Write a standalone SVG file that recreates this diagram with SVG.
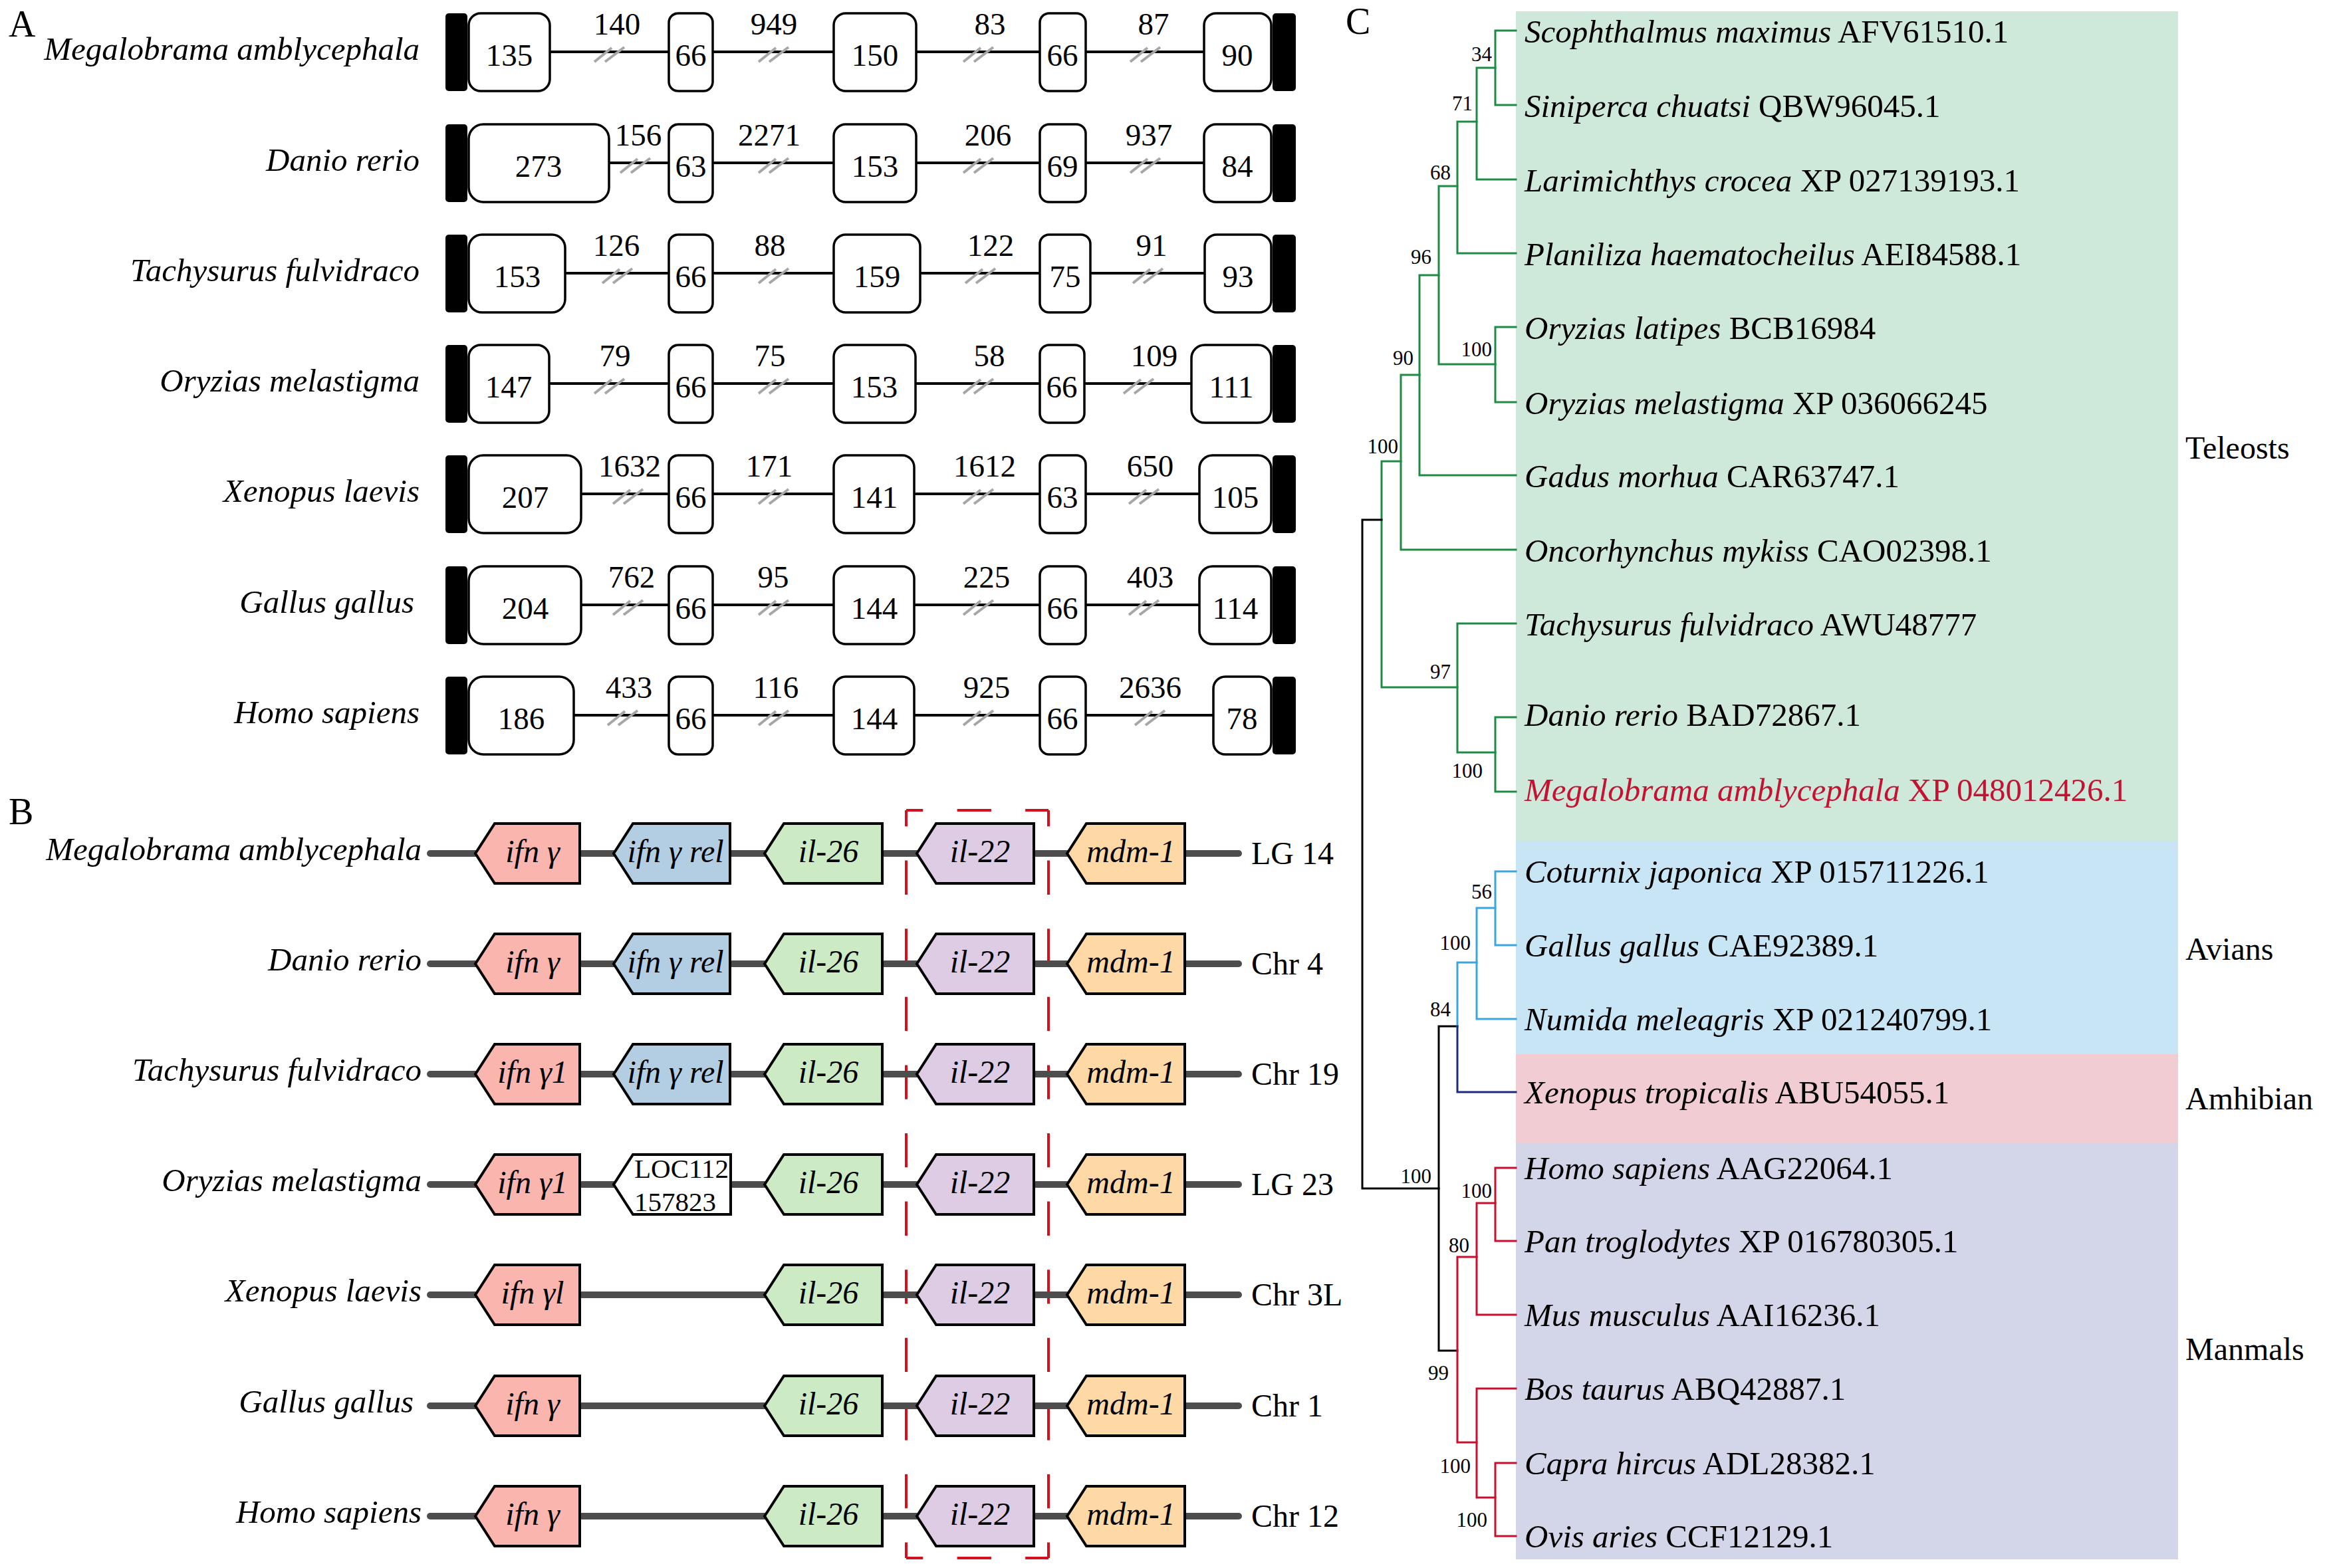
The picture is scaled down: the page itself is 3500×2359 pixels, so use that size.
<svg xmlns="http://www.w3.org/2000/svg" width="3500" height="2359" viewBox="0 0 3500 2359">
<style>
text{font-family:"Liberation Serif","Times New Roman",serif;fill:#000}
.sp{font-size:49px;font-style:italic;text-anchor:end}
.num{font-size:47px;text-anchor:middle}
.pl{font-size:56px}
.box{fill:#fff;stroke:#000;stroke-width:3.5}
.bar{fill:#000}
.ln{stroke:#000;stroke-width:4}
.brk{stroke:#a6a6a6;stroke-width:4}
.chrom{stroke:#4d4d4d;stroke-width:10;stroke-linecap:round}
.gene{stroke:#000;stroke-width:4;stroke-linejoin:miter}
.gl{font-size:48px;font-style:italic;text-anchor:middle}
.chr{font-size:48px}
.ifn{fill:#f9b5ae}.rel{fill:#b3cde3}.i26{fill:#ccebc5}.i22{fill:#decbe4}.mdm{fill:#fed9a6}.loc{fill:#fff}
.red{fill:none;stroke:#d2101e;stroke-width:4;stroke-dasharray:51.3 51.3}
.leaf{font-size:49px}
.it{font-style:italic}
.bs{font-size:31px;text-anchor:end}
.grp{font-size:48px}
.br{fill:none;stroke-width:3;stroke-linecap:square}
.g{stroke:#1e8b45}.k{stroke:#000}.b{stroke:#3aa6dd}.n{stroke:#1c2a80}.r{stroke:#c8102e}
</style>
<defs>
<g id="bk"><line class="brk" x1="-22" y1="13" x2="4" y2="-8"/><line class="brk" x1="-6" y1="13" x2="23" y2="-9"/></g>
</defs>
<rect width="3500" height="2359" fill="#fff"/>

<!-- Panel A -->
<g id="panelA">
<text class="pl" x="13" y="55">A</text>
<g id="A1">
<text class="sp" x="631" y="90">Megalobrama amblycephala</text>
<line class="ln" x1="827" y1="78" x2="1006" y2="78"/><line class="ln" x1="1072" y1="78" x2="1254" y2="78"/><line class="ln" x1="1378" y1="78" x2="1564" y2="78"/><line class="ln" x1="1633" y1="78" x2="1811" y2="78"/>
<use href="#bk" x="916" y="80"/><use href="#bk" x="1163" y="80"/><use href="#bk" x="1471" y="80"/><use href="#bk" x="1722" y="80"/>
<rect class="bar" x="670" y="20" width="33" height="117" rx="5"/><rect class="bar" x="1914" y="20" width="35" height="117" rx="5"/>
<rect class="box" x="705" y="20" width="122" height="117" rx="18"/><rect class="box" x="1006" y="20" width="66" height="117" rx="14"/><rect class="box" x="1254" y="20" width="124" height="117" rx="18"/><rect class="box" x="1564" y="20" width="69" height="117" rx="14"/><rect class="box" x="1811" y="20" width="101" height="117" rx="18"/>
<text class="num" x="766" y="99">135</text><text class="num" x="1039" y="99">66</text><text class="num" x="1316" y="99">150</text><text class="num" x="1598" y="99">66</text><text class="num" x="1861" y="99">90</text>
<text class="num" x="928" y="52">140</text><text class="num" x="1164" y="52">949</text><text class="num" x="1489" y="52">83</text><text class="num" x="1735" y="52">87</text>
</g>
<g id="A2">
<text class="sp" x="631" y="257">Danio rerio</text>
<line class="ln" x1="916" y1="245" x2="1006" y2="245"/><line class="ln" x1="1072" y1="245" x2="1254" y2="245"/><line class="ln" x1="1378" y1="245" x2="1564" y2="245"/><line class="ln" x1="1633" y1="245" x2="1811" y2="245"/>
<use href="#bk" x="955" y="247"/><use href="#bk" x="1163" y="247"/><use href="#bk" x="1471" y="247"/><use href="#bk" x="1722" y="247"/>
<rect class="bar" x="670" y="187" width="33" height="117" rx="5"/><rect class="bar" x="1914" y="187" width="35" height="117" rx="5"/>
<rect class="box" x="705" y="187" width="211" height="117" rx="22"/><rect class="box" x="1006" y="187" width="66" height="117" rx="14"/><rect class="box" x="1254" y="187" width="124" height="117" rx="18"/><rect class="box" x="1564" y="187" width="69" height="117" rx="14"/><rect class="box" x="1811" y="187" width="101" height="117" rx="18"/>
<text class="num" x="810" y="266">273</text><text class="num" x="1039" y="266">63</text><text class="num" x="1316" y="266">153</text><text class="num" x="1598" y="266">69</text><text class="num" x="1861" y="266">84</text>
<text class="num" x="960" y="219">156</text><text class="num" x="1157" y="219">2271</text><text class="num" x="1486" y="219">206</text><text class="num" x="1728" y="219">937</text>
</g>
<g id="A3">
<text class="sp" x="631" y="423">Tachysurus fulvidraco</text>
<line class="ln" x1="850" y1="411" x2="1006" y2="411"/><line class="ln" x1="1072" y1="411" x2="1254" y2="411"/><line class="ln" x1="1384" y1="411" x2="1564" y2="411"/><line class="ln" x1="1640" y1="411" x2="1812" y2="411"/>
<use href="#bk" x="928" y="413"/><use href="#bk" x="1163" y="413"/><use href="#bk" x="1474" y="413"/><use href="#bk" x="1726" y="413"/>
<rect class="bar" x="670" y="353" width="33" height="117" rx="5"/><rect class="bar" x="1914" y="353" width="35" height="117" rx="5"/>
<rect class="box" x="705" y="353" width="145" height="117" rx="20"/><rect class="box" x="1006" y="353" width="66" height="117" rx="14"/><rect class="box" x="1254" y="353" width="130" height="117" rx="18"/><rect class="box" x="1564" y="353" width="76" height="117" rx="14"/><rect class="box" x="1812" y="353" width="100" height="117" rx="18"/>
<text class="num" x="778" y="432">153</text><text class="num" x="1039" y="432">66</text><text class="num" x="1319" y="432">159</text><text class="num" x="1602" y="432">75</text><text class="num" x="1862" y="432">93</text>
<text class="num" x="927" y="385">126</text><text class="num" x="1158" y="385">88</text><text class="num" x="1490" y="385">122</text><text class="num" x="1732" y="385">91</text>
</g>
<g id="A4">
<text class="sp" x="631" y="589">Oryzias melastigma</text>
<line class="ln" x1="826" y1="577" x2="1006" y2="577"/><line class="ln" x1="1072" y1="577" x2="1254" y2="577"/><line class="ln" x1="1377" y1="577" x2="1564" y2="577"/><line class="ln" x1="1631" y1="577" x2="1792" y2="577"/>
<use href="#bk" x="916" y="579"/><use href="#bk" x="1163" y="579"/><use href="#bk" x="1471" y="579"/><use href="#bk" x="1712" y="579"/>
<rect class="bar" x="670" y="519" width="33" height="117" rx="5"/><rect class="bar" x="1914" y="519" width="35" height="117" rx="5"/>
<rect class="box" x="705" y="519" width="121" height="117" rx="18"/><rect class="box" x="1006" y="519" width="66" height="117" rx="14"/><rect class="box" x="1254" y="519" width="123" height="117" rx="18"/><rect class="box" x="1564" y="519" width="67" height="117" rx="14"/><rect class="box" x="1792" y="519" width="120" height="117" rx="20"/>
<text class="num" x="765" y="598">147</text><text class="num" x="1039" y="598">66</text><text class="num" x="1315" y="598">153</text><text class="num" x="1597" y="598">66</text><text class="num" x="1852" y="598">111</text>
<text class="num" x="925" y="551">79</text><text class="num" x="1158" y="551">75</text><text class="num" x="1488" y="551">58</text><text class="num" x="1736" y="551">109</text>
</g>
<g id="A5">
<text class="sp" x="631" y="755">Xenopus laevis</text>
<line class="ln" x1="874" y1="743" x2="1006" y2="743"/><line class="ln" x1="1072" y1="743" x2="1254" y2="743"/><line class="ln" x1="1375" y1="743" x2="1564" y2="743"/><line class="ln" x1="1633" y1="743" x2="1804" y2="743"/>
<use href="#bk" x="944" y="745"/><use href="#bk" x="1163" y="745"/><use href="#bk" x="1471" y="745"/><use href="#bk" x="1720" y="745"/>
<rect class="bar" x="670" y="685" width="33" height="117" rx="5"/><rect class="bar" x="1914" y="685" width="35" height="117" rx="5"/>
<rect class="box" x="705" y="685" width="169" height="117" rx="22"/><rect class="box" x="1006" y="685" width="66" height="117" rx="14"/><rect class="box" x="1254" y="685" width="121" height="117" rx="18"/><rect class="box" x="1564" y="685" width="69" height="117" rx="14"/><rect class="box" x="1804" y="685" width="108" height="117" rx="20"/>
<text class="num" x="790" y="764">207</text><text class="num" x="1039" y="764">66</text><text class="num" x="1315" y="764">141</text><text class="num" x="1598" y="764">63</text><text class="num" x="1858" y="764">105</text>
<text class="num" x="947" y="717">1632</text><text class="num" x="1157" y="717">171</text><text class="num" x="1481" y="717">1612</text><text class="num" x="1730" y="717">650</text>
</g>
<g id="A6">
<text class="sp" x="623" y="922">Gallus gallus</text>
<line class="ln" x1="874" y1="910" x2="1006" y2="910"/><line class="ln" x1="1072" y1="910" x2="1254" y2="910"/><line class="ln" x1="1375" y1="910" x2="1564" y2="910"/><line class="ln" x1="1633" y1="910" x2="1804" y2="910"/>
<use href="#bk" x="944" y="912"/><use href="#bk" x="1163" y="912"/><use href="#bk" x="1471" y="912"/><use href="#bk" x="1720" y="912"/>
<rect class="bar" x="670" y="852" width="33" height="117" rx="5"/><rect class="bar" x="1914" y="852" width="35" height="117" rx="5"/>
<rect class="box" x="705" y="852" width="169" height="117" rx="22"/><rect class="box" x="1006" y="852" width="66" height="117" rx="14"/><rect class="box" x="1254" y="852" width="121" height="117" rx="18"/><rect class="box" x="1564" y="852" width="69" height="117" rx="14"/><rect class="box" x="1804" y="852" width="108" height="117" rx="20"/>
<text class="num" x="790" y="931">204</text><text class="num" x="1039" y="931">66</text><text class="num" x="1315" y="931">144</text><text class="num" x="1598" y="931">66</text><text class="num" x="1858" y="931">114</text>
<text class="num" x="950" y="884">762</text><text class="num" x="1163" y="884">95</text><text class="num" x="1484" y="884">225</text><text class="num" x="1730" y="884">403</text>
</g>
<g id="A7">
<text class="sp" x="631" y="1088">Homo sapiens</text>
<line class="ln" x1="863" y1="1076" x2="1006" y2="1076"/><line class="ln" x1="1072" y1="1076" x2="1254" y2="1076"/><line class="ln" x1="1375" y1="1076" x2="1564" y2="1076"/><line class="ln" x1="1633" y1="1076" x2="1825" y2="1076"/>
<use href="#bk" x="936" y="1078"/><use href="#bk" x="1163" y="1078"/><use href="#bk" x="1471" y="1078"/><use href="#bk" x="1729" y="1078"/>
<rect class="bar" x="670" y="1018" width="33" height="117" rx="5"/><rect class="bar" x="1914" y="1018" width="35" height="117" rx="5"/>
<rect class="box" x="705" y="1018" width="158" height="117" rx="22"/><rect class="box" x="1006" y="1018" width="66" height="117" rx="14"/><rect class="box" x="1254" y="1018" width="121" height="117" rx="18"/><rect class="box" x="1564" y="1018" width="69" height="117" rx="14"/><rect class="box" x="1825" y="1018" width="87" height="117" rx="18"/>
<text class="num" x="784" y="1097">186</text><text class="num" x="1039" y="1097">66</text><text class="num" x="1315" y="1097">144</text><text class="num" x="1598" y="1097">66</text><text class="num" x="1868" y="1097">78</text>
<text class="num" x="946" y="1050">433</text><text class="num" x="1167" y="1050">116</text><text class="num" x="1484" y="1050">925</text><text class="num" x="1730" y="1050">2636</text>
</g>
</g>

<!-- Panel B -->
<g id="panelB">
<text class="pl" x="13" y="1240">B</text>
<g id="highlight">
<line class="red" x1="1363" y1="1219" x2="1577" y2="1219" stroke-dashoffset="26"/>
<line class="red" x1="1363" y1="2344" x2="1577" y2="2344" stroke-dashoffset="26"/>
<line class="red" x1="1363" y1="1219" x2="1363" y2="2344" stroke-dashoffset="27"/>
<line class="red" x1="1577" y1="1219" x2="1577" y2="2344" stroke-dashoffset="27"/>
</g>
<g id="B1">
<text class="sp" x="634" y="1294">Megalobrama amblycephala</text>
<line class="chrom" x1="647" y1="1284" x2="1863" y2="1284"/>
<path class="gene ifn" d="M715,1284 L744,1239 H872 V1329 H744 Z"/><text class="gl" x="801" y="1297">ifn γ</text>
<path class="gene rel" d="M923,1284 L952,1239 H1098 V1329 H952 Z"/><text class="gl" x="1016" y="1297">ifn γ rel</text>
<path class="gene i26" d="M1150,1284 L1179,1239 H1327 V1329 H1179 Z"/><text class="gl" x="1246" y="1297">il-26</text>
<path class="gene i22" d="M1379,1284 L1408,1239 H1555 V1329 H1408 Z"/><text class="gl" x="1474" y="1297">il-22</text>
<path class="gene mdm" d="M1605,1284 L1634,1239 H1782 V1329 H1634 Z"/><text class="gl" x="1701" y="1297">mdm-1</text>
<text class="chr" x="1882" y="1300">LG 14</text>
</g>
<g id="B2">
<text class="sp" x="634" y="1460">Danio rerio</text>
<line class="chrom" x1="647" y1="1450" x2="1863" y2="1450"/>
<path class="gene ifn" d="M715,1450 L744,1405 H872 V1495 H744 Z"/><text class="gl" x="801" y="1463">ifn γ</text>
<path class="gene rel" d="M923,1450 L952,1405 H1098 V1495 H952 Z"/><text class="gl" x="1016" y="1463">ifn γ rel</text>
<path class="gene i26" d="M1150,1450 L1179,1405 H1327 V1495 H1179 Z"/><text class="gl" x="1246" y="1463">il-26</text>
<path class="gene i22" d="M1379,1450 L1408,1405 H1555 V1495 H1408 Z"/><text class="gl" x="1474" y="1463">il-22</text>
<path class="gene mdm" d="M1605,1450 L1634,1405 H1782 V1495 H1634 Z"/><text class="gl" x="1701" y="1463">mdm-1</text>
<text class="chr" x="1882" y="1466">Chr 4</text>
</g>
<g id="B3">
<text class="sp" x="634" y="1626">Tachysurus fulvidraco</text>
<line class="chrom" x1="647" y1="1616" x2="1863" y2="1616"/>
<path class="gene ifn" d="M715,1616 L744,1571 H872 V1661 H744 Z"/><text class="gl" x="801" y="1629">ifn γ1</text>
<path class="gene rel" d="M923,1616 L952,1571 H1098 V1661 H952 Z"/><text class="gl" x="1016" y="1629">ifn γ rel</text>
<path class="gene i26" d="M1150,1616 L1179,1571 H1327 V1661 H1179 Z"/><text class="gl" x="1246" y="1629">il-26</text>
<path class="gene i22" d="M1379,1616 L1408,1571 H1555 V1661 H1408 Z"/><text class="gl" x="1474" y="1629">il-22</text>
<path class="gene mdm" d="M1605,1616 L1634,1571 H1782 V1661 H1634 Z"/><text class="gl" x="1701" y="1629">mdm-1</text>
<text class="chr" x="1882" y="1632">Chr 19</text>
</g>
<g id="B4">
<text class="sp" x="634" y="1792">Oryzias melastigma</text>
<line class="chrom" x1="647" y1="1782" x2="1863" y2="1782"/>
<path class="gene ifn" d="M715,1782 L744,1737 H872 V1827 H744 Z"/><text class="gl" x="801" y="1795">ifn γ1</text>
<path class="gene loc" d="M923,1782 L952,1737 H1099 V1827 H952 Z"/><text x="954" y="1772" font-size="41">LOC112</text><text x="954" y="1822" font-size="41">157823</text>
<path class="gene i26" d="M1150,1782 L1179,1737 H1327 V1827 H1179 Z"/><text class="gl" x="1246" y="1795">il-26</text>
<path class="gene i22" d="M1379,1782 L1408,1737 H1555 V1827 H1408 Z"/><text class="gl" x="1474" y="1795">il-22</text>
<path class="gene mdm" d="M1605,1782 L1634,1737 H1782 V1827 H1634 Z"/><text class="gl" x="1701" y="1795">mdm-1</text>
<text class="chr" x="1882" y="1798">LG 23</text>
</g>
<g id="B5">
<text class="sp" x="634" y="1958">Xenopus laevis</text>
<line class="chrom" x1="647" y1="1948" x2="1863" y2="1948"/>
<path class="gene ifn" d="M715,1948 L744,1903 H872 V1993 H744 Z"/><text class="gl" x="801" y="1961">ifn γl</text>
<path class="gene i26" d="M1150,1948 L1179,1903 H1327 V1993 H1179 Z"/><text class="gl" x="1246" y="1961">il-26</text>
<path class="gene i22" d="M1379,1948 L1408,1903 H1555 V1993 H1408 Z"/><text class="gl" x="1474" y="1961">il-22</text>
<path class="gene mdm" d="M1605,1948 L1634,1903 H1782 V1993 H1634 Z"/><text class="gl" x="1701" y="1961">mdm-1</text>
<text class="chr" x="1882" y="1964">Chr 3L</text>
</g>
<g id="B6">
<text class="sp" x="622" y="2125">Gallus gallus</text>
<line class="chrom" x1="647" y1="2115" x2="1863" y2="2115"/>
<path class="gene ifn" d="M715,2115 L744,2070 H872 V2160 H744 Z"/><text class="gl" x="801" y="2128">ifn γ</text>
<path class="gene i26" d="M1150,2115 L1179,2070 H1327 V2160 H1179 Z"/><text class="gl" x="1246" y="2128">il-26</text>
<path class="gene i22" d="M1379,2115 L1408,2070 H1555 V2160 H1408 Z"/><text class="gl" x="1474" y="2128">il-22</text>
<path class="gene mdm" d="M1605,2115 L1634,2070 H1782 V2160 H1634 Z"/><text class="gl" x="1701" y="2128">mdm-1</text>
<text class="chr" x="1882" y="2131">Chr 1</text>
</g>
<g id="B7">
<text class="sp" x="634" y="2291">Homo sapiens</text>
<line class="chrom" x1="647" y1="2281" x2="1863" y2="2281"/>
<path class="gene ifn" d="M715,2281 L744,2236 H872 V2326 H744 Z"/><text class="gl" x="801" y="2294">ifn γ</text>
<path class="gene i26" d="M1150,2281 L1179,2236 H1327 V2326 H1179 Z"/><text class="gl" x="1246" y="2294">il-26</text>
<path class="gene i22" d="M1379,2281 L1408,2236 H1555 V2326 H1408 Z"/><text class="gl" x="1474" y="2294">il-22</text>
<path class="gene mdm" d="M1605,2281 L1634,2236 H1782 V2326 H1634 Z"/><text class="gl" x="1701" y="2294">mdm-1</text>
<text class="chr" x="1882" y="2297">Chr 12</text>
</g>
</g>

<!-- Panel C -->
<g id="panelC">
<text class="pl" x="2024" y="51">C</text>
<g id="clades">
<rect x="2280" y="17" width="996" height="1248" fill="#cee8da"/>
<rect x="2280" y="1265" width="996" height="321" fill="#c8e5f5"/>
<rect x="2280" y="1586" width="996" height="134" fill="#f1ccd3"/>
<rect x="2280" y="1720" width="996" height="626" fill="#d3d6e9"/>
<text class="grp" x="3287" y="690">Teleosts</text>
<text class="grp" x="3287" y="1444">Avians</text>
<text class="grp" x="3287" y="1669">Amhibian</text>
<text class="grp" x="3287" y="2046">Manmals</text>
</g>
<g id="connectors">
<path class="br g" d="M2280,46 H2249 V158 H2280"/>
<path class="br g" d="M2249,102 H2221 V270 H2280"/>
<path class="br g" d="M2221,183 H2192 V381 H2280"/>
<path class="br g" d="M2280,492 H2249 V605 H2280"/>
<path class="br g" d="M2192,280 H2164 V548 H2249"/>
<path class="br g" d="M2164,414 H2135 V715 H2280"/>
<path class="br g" d="M2135,564 H2107 V827 H2280"/>
<path class="br g" d="M2107,694 H2078 V1034 H2192"/>
<path class="br g" d="M2280,938 H2192 V1132 H2249"/>
<path class="br g" d="M2280,1079 H2249 V1191 H2280"/>
<path class="br k" d="M2078,782 H2049 V1788 H2164"/>
<path class="br k" d="M2192,1544 H2164 V2032 H2192"/>
<path class="br b" d="M2280,1311 H2249 V1422 H2280"/>
<path class="br b" d="M2249,1366 H2221 V1533 H2280"/>
<path class="br b" d="M2221,1448 H2192 V1544"/>
<path class="br n" d="M2192,1544 V1643 H2280"/>
<path class="br r" d="M2280,1757 H2249 V1867 H2280"/>
<path class="br r" d="M2249,1810 H2221 V1978 H2280"/>
<path class="br r" d="M2221,1891 H2192 V2170 H2221"/>
<path class="br r" d="M2280,2089 H2221 V2253 H2249"/>
<path class="br r" d="M2280,2201 H2249 V2311 H2280"/>
</g>
<g id="support">
<text class="bs" x="2244" y="92">34</text>
<text class="bs" x="2215" y="166">71</text>
<text class="bs" x="2182" y="270">68</text>
<text class="bs" x="2153" y="397">96</text>
<text class="bs" x="2244" y="536">100</text>
<text class="bs" x="2126" y="549">90</text>
<text class="bs" x="2103" y="682">100</text>
<text class="bs" x="2182" y="1021">97</text>
<text class="bs" x="2230" y="1170">100</text>
<text class="bs" x="2244" y="1352">56</text>
<text class="bs" x="2212" y="1429">100</text>
<text class="bs" x="2182" y="1529">84</text>
<text class="bs" x="2153" y="1780">100</text>
<text class="bs" x="2244" y="1802">100</text>
<text class="bs" x="2210" y="1884">80</text>
<text class="bs" x="2179" y="2076">99</text>
<text class="bs" x="2212" y="2216">100</text>
<text class="bs" x="2237" y="2297">100</text>
</g>
<g id="leaves">
<text class="leaf" x="2293" y="64"><tspan class="it">Scophthalmus maximus</tspan> AFV61510.1</text>
<text class="leaf" x="2293" y="176"><tspan class="it">Siniperca chuatsi</tspan> QBW96045.1</text>
<text class="leaf" x="2293" y="288"><tspan class="it">Larimichthys crocea</tspan> XP 027139193.1</text>
<text class="leaf" x="2293" y="399"><tspan class="it">Planiliza haematocheilus</tspan> AEI84588.1</text>
<text class="leaf" x="2293" y="510"><tspan class="it">Oryzias latipes</tspan> BCB16984</text>
<text class="leaf" x="2293" y="623"><tspan class="it">Oryzias melastigma</tspan> XP 036066245</text>
<text class="leaf" x="2293" y="733"><tspan class="it">Gadus morhua</tspan> CAR63747.1</text>
<text class="leaf" x="2293" y="845"><tspan class="it">Oncorhynchus mykiss</tspan> CAO02398.1</text>
<text class="leaf" x="2293" y="956"><tspan class="it">Tachysurus fulvidraco</tspan> AWU48777</text>
<text class="leaf" x="2293" y="1092"><tspan class="it">Danio rerio</tspan> BAD72867.1</text>
<text class="leaf" x="2293" y="1205" style="fill:#c41230"><tspan class="it">Megalobrama amblycephala</tspan> XP 048012426.1</text>
<text class="leaf" x="2293" y="1328"><tspan class="it">Coturnix japonica</tspan> XP 015711226.1</text>
<text class="leaf" x="2293" y="1439"><tspan class="it">Gallus gallus</tspan> CAE92389.1</text>
<text class="leaf" x="2293" y="1550"><tspan class="it">Numida meleagris</tspan> XP 021240799.1</text>
<text class="leaf" x="2293" y="1660"><tspan class="it">Xenopus tropicalis</tspan> ABU54055.1</text>
<text class="leaf" x="2293" y="1774"><tspan class="it">Homo sapiens</tspan> AAG22064.1</text>
<text class="leaf" x="2293" y="1884"><tspan class="it">Pan troglodytes</tspan> XP 016780305.1</text>
<text class="leaf" x="2293" y="1995"><tspan class="it">Mus musculus</tspan> AAI16236.1</text>
<text class="leaf" x="2293" y="2106"><tspan class="it">Bos taurus</tspan> ABQ42887.1</text>
<text class="leaf" x="2293" y="2218"><tspan class="it">Capra hircus</tspan> ADL28382.1</text>
<text class="leaf" x="2293" y="2328"><tspan class="it">Ovis aries</tspan> CCF12129.1</text>
</g>
</g>
</svg>
